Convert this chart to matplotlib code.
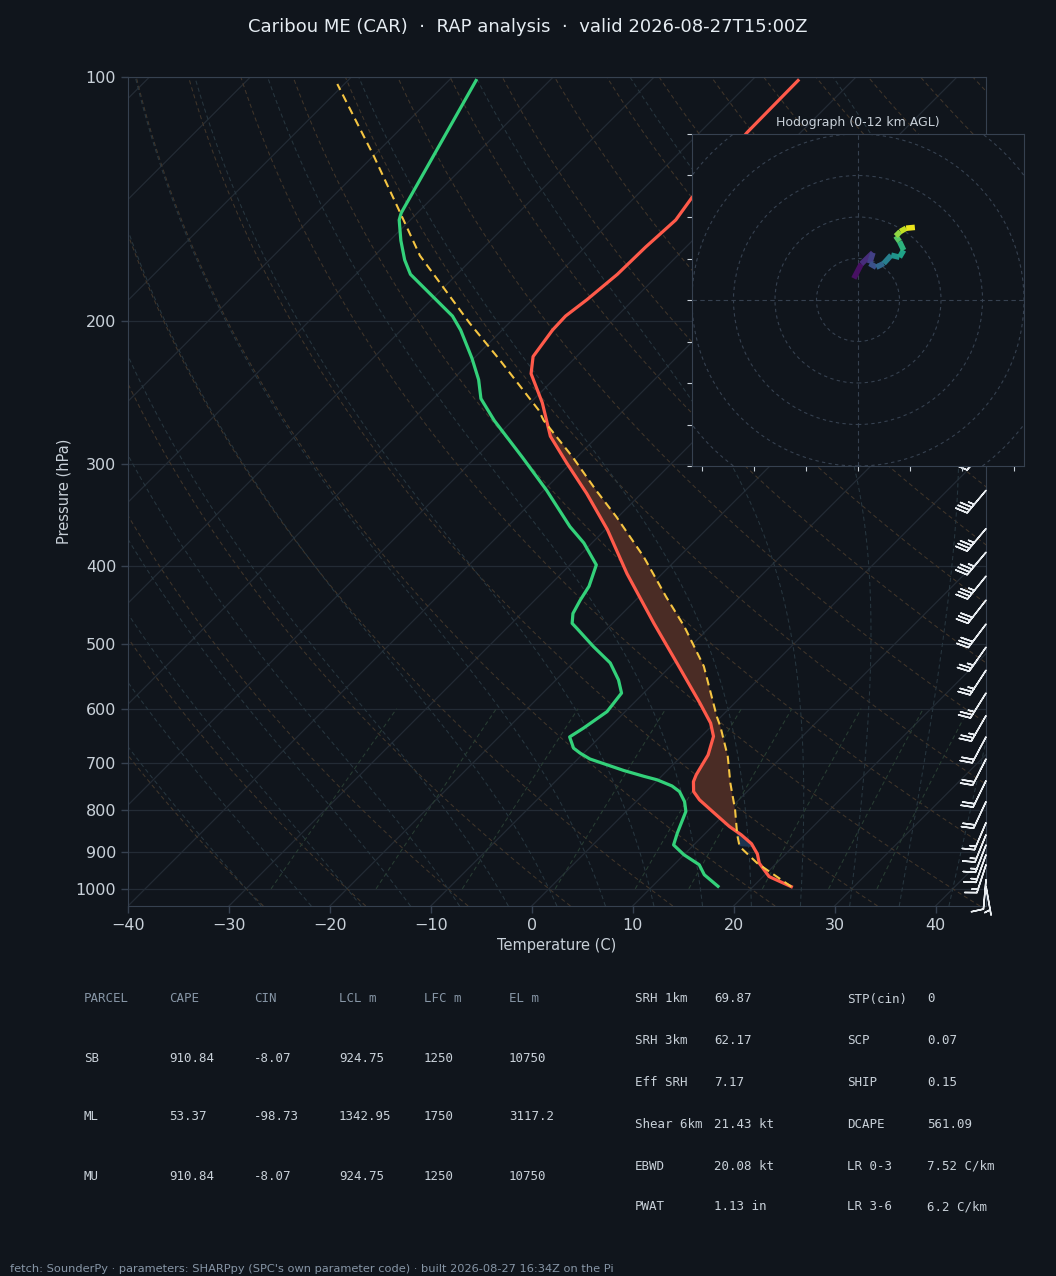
"""Skew-T / hodograph sounding panel for CAR, drawn with plain matplotlib
(no MetPy in the container, so the skew is done by hand)."""

import numpy as np
import matplotlib

matplotlib.use("Agg")
import matplotlib.pyplot as plt
from matplotlib.collections import LineCollection

# ---- sounding ----
TEMP_P = [994, 966, 930, 906, 880, 858, 838, 807, 777, 759, 738, 724, 714, 684,
          649, 625, 591, 527, 471, 409, 361, 326, 299, 277, 252, 232, 221, 205,
          197, 188, 175, 162, 150, 141, 128, 117, 101]
TEMP_C = [23.8, 20.6, 18.3, 17.2, 15.6, 13.7, 11.7, 8.9, 6.1, 4.7, 3.7, 3.3, 3.1,
          2.5, 1.2, -0.4, -3.4, -9.7, -15.9, -23.5, -29.8, -35.4, -40.4, -44.7,
          -48.8, -52.8, -54.3, -55.0, -55.1, -54.6, -54.1, -54.0, -53.7, -54.3,
          -54.8, -55.3, -55.4]

DEWP_P = [993, 961, 934, 908, 883, 854, 803, 781, 759, 747, 734, 727, 715, 692,
          681, 671, 650, 634, 605, 574, 553, 527, 503, 478, 471, 458, 441, 424,
          399, 375, 358, 323, 294, 265, 249, 236, 222, 205, 197, 175, 168, 159,
          150, 147, 101]
DEWP_C = [16.5, 14.0, 12.5, 10.0, 8.0, 7.2, 5.9, 4.8, 3.3, 2.0, -0.1, -1.7, -4.3,
          -8.8, -10.3, -11.5, -13.0, -12.5, -11.8, -12.2, -13.8, -16.3, -19.6,
          -23.0, -24.0, -24.9, -25.5, -26.0, -27.4, -30.8, -33.8, -39.7, -45.4,
          -51.8, -55.3, -57.4, -60.2, -64.1, -66.3, -74.6, -76.6, -78.9, -81.1,
          -81.6, -87.3]

PARCEL_P = [994, 930, 887, 858, 799, 741, 687, 631, 614, 532, 475, 437, 390, 348,
            323, 294, 265, 257, 223, 201, 166, 145, 125, 102]
PARCEL_C = [23.8, 18.1, 14.7, 13.3, 10.6, 7.5, 4.6, 0.9, -0.4, -6.7, -12.6, -17.3,
            -23.5, -30.2, -34.8, -40.4, -46.9, -48.5, -57.3, -63.9, -75.5, -82.4,
            -90.0, -100.7]

# wind barbs (kt, direction wind blows from)
BARB_P = [286, 323, 360, 385, 412, 441, 472, 504, 538, 574, 612, 650, 692, 736,
          781, 829, 858, 883, 908, 934, 975, 993]
BARB_SPD = [35, 35, 35, 35, 35, 30, 30, 25, 25, 25, 25, 20, 20, 20, 20, 15, 15,
            15, 15, 15, 10, 5]
BARB_DIR = [220, 220, 220, 220, 219, 218, 217, 215, 213, 212, 210, 208, 207, 206,
            205, 203, 202, 201, 200, 198, 185, 170]

# hodograph trace
HODO_U = [-1.0, 0.8, 3.6, 2.8, 4.4, 6.2, 8.0, 10.0, 11.0, 10.0, 9.1, 10.2, 11.6, 13.7]
HODO_V = [5.2, 8.7, 11.4, 8.8, 7.9, 8.8, 10.8, 10.3, 12.0, 14.1, 15.4, 16.5, 17.3, 17.5]
HODO_Z = [0, 1.0, 2.0, 2.5, 3.5, 4.5, 5.8, 6.5, 7.2, 8.2, 9.5, 10.5, 11.3, 12.0]

# parameter tables
TABLE_HEADERS = ["PARCEL", "CAPE", "CIN", "LCL m", "LFC m", "EL m"]
PARCEL_NAMES = ["SB", "ML", "MU"]
CAPE = [910.84, 53.37, 910.84]
CIN = [-8.07, -98.73, -8.07]
LCL_M = [924.75, 1342.95, 924.75]
LFC_M = [1250, 1750, 1250]
EL_M = [10750, 3117.2, 10750]

KIN_LABELS = ["SRH 1km", "SRH 3km", "Eff SRH", "Shear 6km", "EBWD", "PWAT"]
KIN_VALUES = [69.87, 62.17, 7.17, 21.43, 20.08, 1.13]
KIN_UNITS = ["", "", "", " kt", " kt", " in"]
COMP_LABELS = ["STP(cin)", "SCP", "SHIP", "DCAPE", "LR 0-3", "LR 3-6"]
COMP_VALUES = [0, 0.07, 0.15, 561.09, 7.52, 6.2]
COMP_UNITS = ["", "", "", "", " C/km", " C/km"]

TITLE = "Caribou ME (CAR)  \u00b7  RAP analysis  \u00b7  valid 2026-08-27T15:00Z"
FOOTER = ("fetch: SounderPy \u00b7 parameters: SHARPpy (SPC's own parameter code) "
          "\u00b7 built 2026-08-27 16:34Z on the Pi")

# ---- look ----
BG = "#10151c"
SPINE = "#364150"
GRID = "#232b35"
TXT = "#c9d1d9"
MUTED = "#8796a6"
RED = "#ff5a4a"
GREEN = "#33d17a"
YELLOW = "#f5c542"

W, H = 1056, 1276
P_BOT, P_TOP = 1050, 100
T_MIN, T_MAX = -40, 45
AX_L, AX_T, AX_R, AX_B = 128, 77, 986, 906

plt.rcParams["font.family"] = ["DejaVu Sans"]


def box(l, t, r, b):
    return [l / W, 1 - b / H, (r - l) / W, (b - t) / H]


# 45 degree isotherms: degrees of x per decade of pressure
SKEW = ((AX_B - AX_T) / np.log10(P_BOT / P_TOP)) / ((AX_R - AX_L) / (T_MAX - T_MIN))


def sx(t, p):
    return np.asarray(t, float) + SKEW * np.log10(P_BOT / np.asarray(p, float))


def moist_adiabats(t0c, p):
    """Pseudo-adiabats from 1000 hPa, RK4 in ln p. p must start at 1000."""
    def rate(T, pp):
        es = 6.112 * np.exp(17.67 * (T - 273.15) / (T - 29.65))
        rs = 0.622 * es / (pp - es)
        return (287.04 * T + 2.501e6 * rs) / (1005.7 + 2.501e6 ** 2 * rs * 0.622 / (287.04 * T ** 2))
    T = np.asarray(t0c, float) + 273.15
    out = [T.copy()]
    lnp = np.log(p)
    for i in range(len(p) - 1):
        h = lnp[i + 1] - lnp[i]
        k1 = rate(T, p[i])
        k2 = rate(T + 0.5 * h * k1, np.exp(lnp[i] + 0.5 * h))
        k3 = rate(T + 0.5 * h * k2, np.exp(lnp[i] + 0.5 * h))
        k4 = rate(T + h * k3, p[i + 1])
        T = T + h * (k1 + 2 * k2 + 2 * k3 + k4) / 6
        out.append(T.copy())
    return np.array(out) - 273.15


fig = plt.figure(figsize=(W / 100, H / 100), dpi=100, facecolor=BG)
ax = fig.add_axes(box(AX_L, AX_T, AX_R, AX_B), facecolor=BG)
ax.set_yscale("log")
ax.set_ylim(P_BOT, P_TOP)
ax.set_xlim(T_MIN, T_MAX)

# reference lines
pp = np.geomspace(P_BOT, P_TOP, 120)
for t in range(-130, 50, 10):
    ax.plot(sx(np.full_like(pp, t), pp), pp, color=GRID, lw=0.9, zorder=1)
for p in range(100, 1001, 100):
    ax.axhline(p, color=GRID, lw=0.9, zorder=1)

for t0 in range(-30, 201, 10):
    td = (t0 + 273.15) * (pp / 1000.0) ** 0.2857 - 273.15
    ax.plot(sx(td, pp), pp, color="#40352a", lw=0.75, ls=(0, (4, 3)), zorder=1)

p_up = np.geomspace(1000, P_TOP, 150)
p_dn = np.geomspace(1000, P_BOT, 6)
m0 = np.arange(-30, 46, 5)
tm_up = moist_adiabats(m0, p_up)
tm_dn = moist_adiabats(m0, p_dn)
for i in range(len(m0)):
    pm = np.concatenate([p_dn[::-1], p_up[1:]])
    tm = np.concatenate([tm_dn[::-1, i], tm_up[1:, i]])
    ax.plot(sx(tm, pm), pm, color="#27363f", lw=0.75, ls=(0, (4, 3)), zorder=1)

pw = np.geomspace(1000, 600, 30)
for w in [0.0004, 0.001, 0.002, 0.004, 0.007, 0.01, 0.016, 0.024, 0.032]:
    e = w * pw / (0.622 + w)
    lg = np.log(e / 6.112)
    tw = 243.5 * lg / (17.67 - lg)
    ax.plot(sx(tw, pw), pw, color="#283d33", lw=0.75, ls=(0, (4, 3)), zorder=1)

# CAPE / CIN shading
pg = np.geomspace(990, 120, 800)


def on_grid(P, T):
    return np.interp(np.log(pg), np.log(np.asarray(P)[::-1]), np.asarray(T)[::-1])


tg = on_grid(TEMP_P, TEMP_C)
parg = on_grid(PARCEL_P, PARCEL_C)
xt, xpcl = sx(tg, pg), sx(parg, pg)
cape_zone = (parg >= tg) & (pg < 860) & (pg > 250)
cin_zone = (tg >= parg) & (pg <= 888) & (pg > 830)
ax.fill_betweenx(pg, xt, xpcl, where=cape_zone, interpolate=True,
                 facecolor="#4a2c25", edgecolor="none", zorder=2)
ax.fill_betweenx(pg, xt, xpcl, where=cin_zone, interpolate=True,
                 facecolor="#1d3350", edgecolor="none", zorder=2)

ax.plot(sx(TEMP_C, TEMP_P), TEMP_P, color=RED, lw=2.3, zorder=4)
ax.plot(sx(DEWP_C, DEWP_P), DEWP_P, color=GREEN, lw=2.3, zorder=4)
ax.plot(sx(PARCEL_C, PARCEL_P), PARCEL_P, color=YELLOW, lw=1.5,
        ls=(0, (4, 2.5)), zorder=5)

# barbs on the right edge
rad = np.deg2rad(BARB_DIR)
bu = -np.asarray(BARB_SPD) * np.sin(rad)
bv = -np.asarray(BARB_SPD) * np.cos(rad)
ax.barbs(np.ones(len(BARB_P)), BARB_P, bu, bv, transform=ax.get_yaxis_transform(),
         clip_on=False, length=6.5, color="#e8ecf0", linewidth=1.1, zorder=6)

ax.set_yticks(range(100, 1001, 100))
ax.set_yticklabels([str(p) for p in range(100, 1001, 100)])
ax.yaxis.set_minor_locator(matplotlib.ticker.NullLocator())
ax.set_xticks(range(-40, 41, 10))
ax.tick_params(colors=TXT, labelsize=11.5, length=5, width=1, color=SPINE)
for s in ax.spines.values():
    s.set_color(SPINE)
ax.set_ylabel("Pressure (hPa)", color=TXT, fontsize=10.5, labelpad=3)
ax.set_xlabel("Temperature (C)", color=TXT, fontsize=10.5, labelpad=4)

# hodograph inset
hx = fig.add_axes(box(692, 134, 1024, 466), facecolor=BG, zorder=10)
hx.set_xlim(-40, 40)
hx.set_ylim(-40, 40)
for r in (10, 20, 30, 40, 50):
    hx.add_patch(plt.Circle((0, 0), r, fill=False, color=SPINE, lw=0.8, ls=(0, (3, 3))))
hx.axhline(0, color=SPINE, lw=0.8, ls=(0, (4, 3)))
hx.axvline(0, color=SPINE, lw=0.8, ls=(0, (4, 3)))
pts = np.column_stack([HODO_U, HODO_V]).reshape(-1, 1, 2)
segs = np.concatenate([pts[:-1], pts[1:]], axis=1)
lc = LineCollection(segs, cmap="viridis", linewidths=4, capstyle="butt")
lc.set_array(0.5 * (np.asarray(HODO_Z[:-1]) + np.asarray(HODO_Z[1:])))
lc.set_clim(0, 12)
hx.add_collection(lc)
hx.set_xticks([-37.5, -25, -12.5, 0, 12.5, 25, 37.5])
hx.set_yticks(range(-40, 41, 10))
hx.tick_params(colors=TXT, length=3.5, labelleft=False, labelbottom=False)
for s in hx.spines.values():
    s.set_color(SPINE)
hx.set_title("Hodograph (0-12 km AGL)", color=TXT, fontsize=9, pad=6)

# text
fig.text(0.5, 1 - 27 / H, TITLE, ha="center", va="center", color="#e6edf3", fontsize=13)

col_x = [84, 169, 254, 339, 424, 509]
row_y = [999, 1058, 1117, 1176]
mono = dict(family="DejaVu Sans Mono", fontsize=9, va="center")
for x, h in zip(col_x, TABLE_HEADERS):
    fig.text(x / W, 1 - row_y[0] / H, h, color=MUTED, **mono)
for i, name in enumerate(PARCEL_NAMES):
    vals = [name] + [f"{v:g}" for v in (CAPE[i], CIN[i], LCL_M[i], LFC_M[i], EL_M[i])]
    for x, v in zip(col_x, vals):
        fig.text(x / W, 1 - row_y[i + 1] / H, v, color=TXT, **mono)

side_y = [999, 1041, 1083, 1124, 1166, 1207]
for i, y in enumerate(side_y):
    fy = 1 - y / H
    fig.text(635 / W, fy, KIN_LABELS[i], color=TXT, **mono)
    fig.text(714 / W, fy, f"{KIN_VALUES[i]:g}{KIN_UNITS[i]}", color=TXT, **mono)
    fig.text(847 / W, fy, COMP_LABELS[i], color=TXT, **mono)
    fig.text(927 / W, fy, f"{COMP_VALUES[i]:g}{COMP_UNITS[i]}", color=TXT, **mono)

fig.text(10 / W, 1 - 1269 / H, FOOTER, color=MUTED, fontsize=8.2, va="center")

fig.savefig("out.png", dpi=100, facecolor=BG)
